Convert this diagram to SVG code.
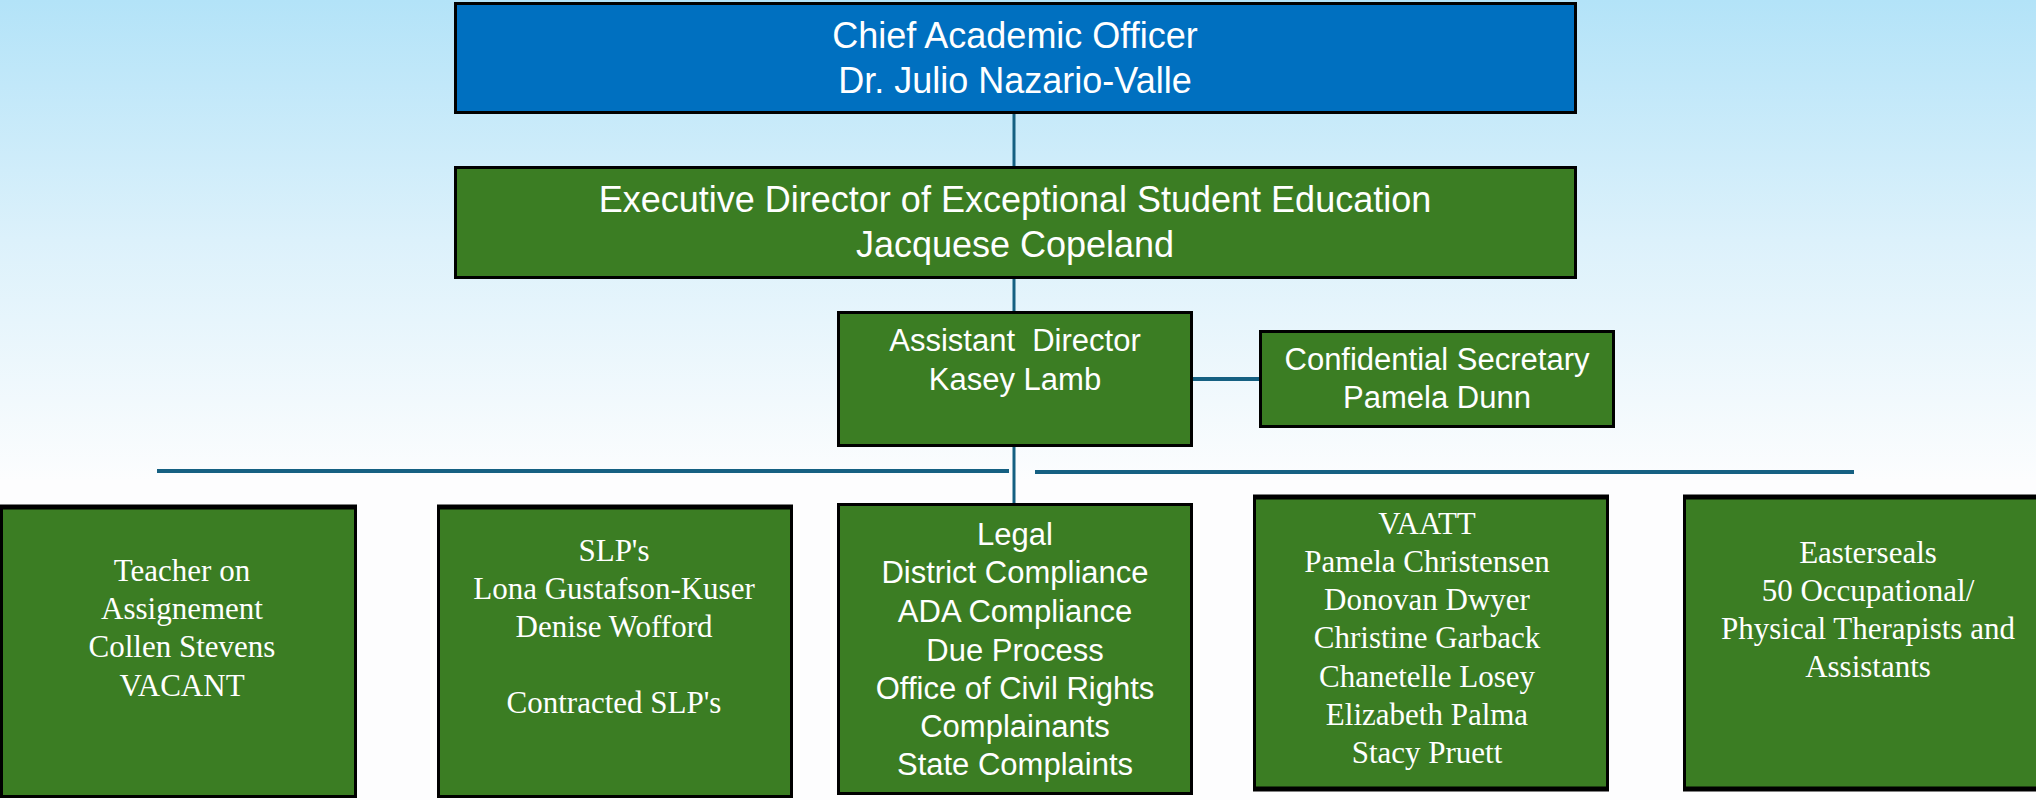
<svg xmlns="http://www.w3.org/2000/svg" width="2036" height="800" viewBox="0 0 2036 800">
<defs>
<linearGradient id="bg" x1="0" y1="0" x2="0" y2="480" gradientUnits="userSpaceOnUse">
<stop offset="0" stop-color="#b3e3f8"/>
<stop offset="0.5" stop-color="#dcf1fb"/>
<stop offset="1" stop-color="#fcfdfe"/>
</linearGradient>
<style>
.box{stroke:#000;stroke-width:3}
.blue{fill:#0070c0}
.green{fill:#3b7d23}
.top{stroke:#000;stroke-width:5}
.sans{font-family:"Liberation Sans",Arial,sans-serif;fill:#fff;text-anchor:middle}
.serif{font-family:"Liberation Serif","Times New Roman",serif;fill:#fff;text-anchor:middle;font-size:31px}
.big{font-size:36px}
.mid{font-size:31px}
.conn line{stroke:#156082;fill:none}
</style>
</defs>
<rect x="0" y="0" width="2036" height="800" fill="#fdfdfe"/>
<rect x="0" y="0" width="2036" height="480" fill="url(#bg)"/>

<g id="connectors" class="conn">
<line x1="1014" y1="114" x2="1014" y2="166" stroke-width="3"/>
<line x1="1014" y1="279" x2="1014" y2="311" stroke-width="3"/>
<line x1="1014" y1="447" x2="1014" y2="503" stroke-width="3"/>
<line x1="1193" y1="379" x2="1259" y2="379" stroke-width="4"/>
<line x1="157" y1="471" x2="1009" y2="471" stroke-width="4"/>
<line x1="1035" y1="472" x2="1854" y2="472" stroke-width="4"/>
</g>

<g id="chief">
<rect class="box blue" x="455.5" y="3.5" width="1120" height="109"/>
<text class="sans big" x="1015" y="48">Chief Academic Officer</text>
<text class="sans big" x="1015" y="93">Dr. Julio Nazario-Valle</text>
</g>

<g id="executive-director">
<rect class="box green" x="455.5" y="167.5" width="1120" height="110"/>
<text class="sans big" x="1015" y="212">Executive Director of Exceptional Student Education</text>
<text class="sans big" x="1015" y="257">Jacquese Copeland</text>
</g>

<g id="assistant-director">
<rect class="box green" x="838.5" y="312.5" width="353" height="133"/>
<text class="sans mid" x="1015" y="351" xml:space="preserve">Assistant  Director</text>
<text class="sans mid" x="1015" y="390">Kasey Lamb</text>
</g>

<g id="confidential-secretary">
<rect class="box green" x="1260.5" y="331.5" width="353" height="95"/>
<text class="sans mid" x="1437" y="370">Confidential Secretary</text>
<text class="sans mid" x="1437" y="408">Pamela Dunn</text>
</g>

<g id="teacher-on-assignment">
<rect class="box green" x="1.5" y="506.5" width="354" height="290"/>
<line class="top" x1="0" y1="507" x2="357" y2="507"/>
<text class="serif" x="182" y="581">Teacher on</text>
<text class="serif" x="182" y="619">Assignement</text>
<text class="serif" x="182" y="657">Collen Stevens</text>
<text class="serif" x="182" y="696">VACANT</text>
</g>

<g id="slps">
<rect class="box green" x="438.5" y="506.5" width="353" height="290"/>
<line class="top" x1="437" y1="507" x2="793" y2="507"/>
<text class="serif" x="614" y="561">SLP's</text>
<text class="serif" x="614" y="599">Lona Gustafson-Kuser</text>
<text class="serif" x="614" y="637">Denise Wofford</text>
<text class="serif" x="614" y="713">Contracted SLP's</text>
</g>

<g id="legal">
<rect class="box green" x="838.5" y="504.5" width="353" height="289"/>
<text class="sans mid" x="1015" y="545">Legal</text>
<text class="sans mid" x="1015" y="583">District Compliance</text>
<text class="sans mid" x="1015" y="622">ADA Compliance</text>
<text class="sans mid" x="1015" y="661">Due Process</text>
<text class="sans mid" x="1015" y="699">Office of Civil Rights</text>
<text class="sans mid" x="1015" y="737">Complainants</text>
<text class="sans mid" x="1015" y="775">State Complaints</text>
</g>

<g id="vaatt">
<rect class="box green" x="1254.5" y="496.5" width="353" height="293"/>
<line class="top" x1="1253" y1="497" x2="1609" y2="497"/>
<line class="top" x1="1253" y1="789" x2="1609" y2="789"/>
<text class="serif" x="1427" y="534">VAATT</text>
<text class="serif" x="1427" y="572">Pamela Christensen</text>
<text class="serif" x="1427" y="610">Donovan Dwyer</text>
<text class="serif" x="1427" y="648">Christine Garback</text>
<text class="serif" x="1427" y="687">Chanetelle Losey</text>
<text class="serif" x="1427" y="725">Elizabeth Palma</text>
<text class="serif" x="1427" y="763">Stacy Pruett</text>
</g>

<g id="easterseals">
<rect class="box green" x="1684.5" y="496.5" width="380" height="293"/>
<line class="top" x1="1683" y1="497" x2="2036" y2="497"/>
<line class="top" x1="1683" y1="789" x2="2036" y2="789"/>
<text class="serif" x="1868" y="563">Easterseals</text>
<text class="serif" x="1868" y="601">50 Occupational/</text>
<text class="serif" x="1868" y="639">Physical Therapists and</text>
<text class="serif" x="1868" y="677">Assistants</text>
</g>
</svg>
